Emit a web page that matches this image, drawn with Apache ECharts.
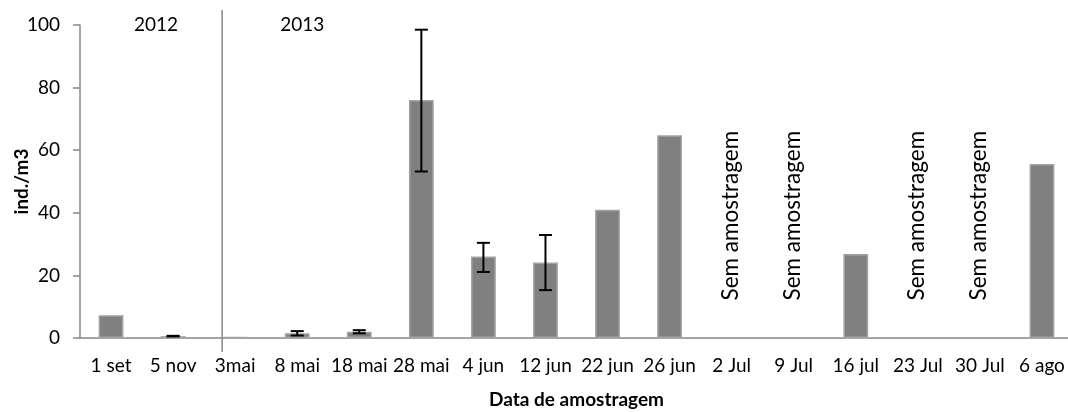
<!DOCTYPE html>
<html><head><meta charset="utf-8">
<script src="https://cdn.jsdelivr.net/npm/echarts@6/dist/echarts.min.js"></script>
<style>html,body{margin:0;padding:0;background:#fff}#c{width:1068px;height:412px}</style>
</head><body><div id="c"></div>
<script>
const categories = ['1 set','5 nov','3mai','8 mai','18 mai','28 mai','4 jun','12 jun','22 jun','26 jun','2 Jul','9 Jul','16 jul','23 Jul','30 Jul','6 ago'];
const values = [7.3, 0.6, 0.3, 1.5, 2.0, 76.0, 26.0, 24.1, 41.0, 64.8, null, null, 26.8, null, null, 55.6];
const errLow  = [null, 0.5, null, 0.8, 1.5, 53.2, 21.1, 15.3, null, null, null, null, null, null, null, null];
const errHigh = [null, 0.7, null, 2.2, 2.5, 98.5, 30.4, 32.9, null, null, null, null, null, null, null, null];
const noSample = ['2 Jul','9 Jul','23 Jul','30 Jul'];
const yearLabels = ['2012','2013'];
const yTicks = [0,20,40,60,80,100];

const FONT = 'Lato';
const chart = echarts.init(document.getElementById('c'));
const errData = categories.map((c,i)=> errLow[i]==null ? null : [i, errLow[i], errHigh[i]]).filter(d=>d);

chart.setOption({
  animation:false,
  textStyle:{fontFamily:FONT},
  grid:{left:80, top:25, width:993, height:313, containLabel:false, outerBoundsMode:'none'},
  xAxis:{
    type:'category', data:categories, boundaryGap:true,
    name:'Data de amostragem', nameLocation:'middle', nameGap:52, nameMoveOverlap:false,
    nameTextStyle:{fontFamily:FONT, fontWeight:'bold', fontSize:19, color:'#000'},
    axisLine:{lineStyle:{color:'#888888', width:1.5}},
    axisTick:{length:7, lineStyle:{color:'#888888', width:1.5}},
    axisLabel:{color:'#000', fontSize:19, margin:18, interval:0, fontFamily:FONT}
  },
  yAxis:{
    type:'value', min:0, max:100, interval:20,
    name:'ind./m3', nameLocation:'middle', nameGap:49, nameRotate:90, nameMoveOverlap:false,
    nameTextStyle:{fontFamily:FONT, fontWeight:'bold', fontSize:19, color:'#000'},
    axisLine:{show:true, lineStyle:{color:'#888888', width:1.5}},
    axisTick:{show:true, length:7, lineStyle:{color:'#888888', width:1.5}},
    splitLine:{show:false},
    axisLabel:{color:'#000', fontSize:19, margin:20, fontFamily:FONT,
      formatter:v=> yTicks.includes(v) ? String(v) : ''}
  },
  series:[
    {type:'bar', data:values, barWidth:'40%',
      itemStyle:{color:'#808080', borderColor:'#a3a3a3', borderWidth:1.5}},
    {type:'custom', data:errData, z:5,
      renderItem:(params, api)=>{
        const x = api.coord([api.value(0), api.value(1)])[0];
        const yl = api.coord([api.value(0), api.value(1)])[1];
        const yh = api.coord([api.value(0), api.value(2)])[1];
        const w = 6.5;
        const st = {stroke:'#000', lineWidth:2};
        return {type:'group', children:[
          {type:'line', shape:{x1:x,y1:yl,x2:x,y2:yh}, style:st},
          {type:'line', shape:{x1:x-w,y1:yl,x2:x+w,y2:yl}, style:st},
          {type:'line', shape:{x1:x-w,y1:yh,x2:x+w,y2:yh}, style:st}
        ]};
      }}
  ]
});

// annotations
const g = [];
const x0 = chart.convertToPixel({xAxisIndex:0}, categories[0]);
const x1 = chart.convertToPixel({xAxisIndex:0}, categories[1]);
const x2 = chart.convertToPixel({xAxisIndex:0}, categories[2]);
const x3 = chart.convertToPixel({xAxisIndex:0}, categories[3]);
const divX = x1 + (x2 - x1) * 0.79;
const yTop = chart.convertToPixel({yAxisIndex:0}, 100);
const yZero = chart.convertToPixel({yAxisIndex:0}, 0);
g.push({type:'line', shape:{x1:divX, y1:yTop-15, x2:divX, y2:yZero+14}, style:{stroke:'#888888', lineWidth:1.5}});
g.push({type:'text', x:(x0 + x1)/2 + 14, y:yTop, style:{text:yearLabels[0], font:'19px '+FONT, fill:'#000', textAlign:'center', textVerticalAlign:'middle'}});
g.push({type:'text', x:x3 + 5, y:yTop, style:{text:yearLabels[1], font:'19px '+FONT, fill:'#000', textAlign:'center', textVerticalAlign:'middle'}});
const yText = chart.convertToPixel({yAxisIndex:0}, 12);
noSample.forEach(c=>{
  const cx = chart.convertToPixel({xAxisIndex:0}, c);
  g.push({type:'text', x:cx - 1, y:yText, rotation:Math.PI/2,
    style:{text:'Sem amostragem', font:'22.5px '+FONT, fill:'#000', textAlign:'left', textVerticalAlign:'middle'}});
});
chart.setOption({graphic:g});
</script></body></html>
